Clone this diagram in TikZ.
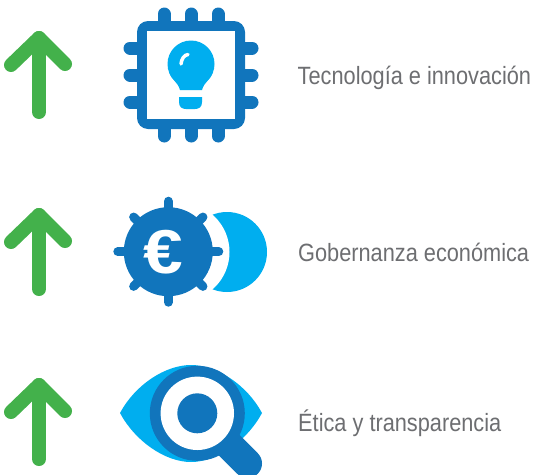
\documentclass[tikz,border=0pt]{standalone}
\usepackage{fontspec}
\setmainfont{Liberation Sans}
\newfontfamily\labelfont[FakeStretch=0.87]{Liberation Sans}
\definecolor{dkblue}{HTML}{1175BC}
\definecolor{ltblue}{HTML}{00AEEF}
\definecolor{arrowgreen}{HTML}{43B14B}
\definecolor{labelgrey}{HTML}{6D6E71}
\tikzset{
  uparrow/.style={draw=arrowgreen,line width=14pt,line cap=round,line join=round},
  pin/.style={draw=dkblue,line width=13pt,line cap=round},
  spike/.style={draw=dkblue,line width=9pt,line cap=round},
  rowlabel/.style={anchor=base west,inner sep=0pt,text=labelgrey,font=\labelfont\fontsize{25}{25}\selectfont}
}
\begin{document}
\begin{tikzpicture}[x=1pt,y=-1pt]
\useasboundingbox (0,0) rectangle (534,474);
% arrows
\foreach \dy in {0,177,347}{
  \begin{scope}[yshift=-\dy pt]
    \draw[uparrow] (39,112) -- (39,38);
    \draw[uparrow] (11,65) -- (39,38) -- (65,64);
  \end{scope}
}
% chip
\foreach \p in {164,191,218}{
  \draw[pin] (\p,14) -- (\p,30);
  \draw[pin] (\p,120) -- (\p,136);
}
\foreach \p in {48,75,102}{
  \draw[pin] (130,\p) -- (146,\p);
  \draw[pin] (236,\p) -- (252,\p);
}
\fill[dkblue,rounded corners=11pt] (137,21) rectangle (245,129);
\fill[white] (147,31) rectangle (235,119);
% bulb
\fill[ltblue] (191,64) circle[radius=23.5];
\fill[ltblue] (180,90) .. controls (178,82) and (170,78) .. (169,72)
  -- (213,72) .. controls (212,78) and (204,82) .. (202,90) -- cycle;
\fill[ltblue] (179,97) -- (202,97) -- (202,102) .. controls (202,107) and (199,109) .. (195,109)
  -- (186,109) .. controls (182,109) and (179,107) .. (179,102) -- cycle;
\draw[white,line width=3.5pt,line cap=round] (181,64) .. controls (181.5,59) and (184,55) .. (188,54.5);
% coin
\fill[ltblue] (227,252) circle[radius=40];
\fill[white] (180,252) circle[radius=49.5];
\begin{scope}[shift={(168.3,251.7)}]
  \foreach \a in {0,90,180,270}{\draw[spike] (0,0) -- (\a:50.5);}
  \foreach \a in {45,135,225,315}{\draw[spike] (0,0) -- (\a:49);}
  \fill[dkblue] (0,0) circle[radius=44.5];
\end{scope}
\node[text=white,inner sep=0pt,xscale=1.15,font=\bfseries\fontsize{62}{62}\selectfont] (euro) at (163,252) {€};
% eye and magnifier
\fill[ltblue] (120,413) .. controls (135,385) and (165,365) .. (191,365)
  .. controls (217,365) and (247,385) .. (262,413)
  .. controls (247,441) and (217,462) .. (191,462)
  .. controls (165,462) and (135,441) .. (120,413) -- cycle;
\begin{scope}
  \clip (0,0) rectangle (534,474);
  \draw[dkblue,line width=29pt,line cap=round] (197.3,413.3) -- (247.5,463.5);
\end{scope}
\fill[dkblue] (197.3,413.3) circle[radius=47.5];
\fill[white] (197.3,413.3) circle[radius=36.7];
\fill[dkblue] (197.3,413.3) circle[radius=20];
% labels
\node[rowlabel] (l1) at (297.5,84) {Tecnología e innovación};
\node[rowlabel] (l2) at (298,261) {Gobernanza económica};
\node[rowlabel] (l3) at (298,431.5) {Ética y transparencia};
\end{tikzpicture}
\end{document}
